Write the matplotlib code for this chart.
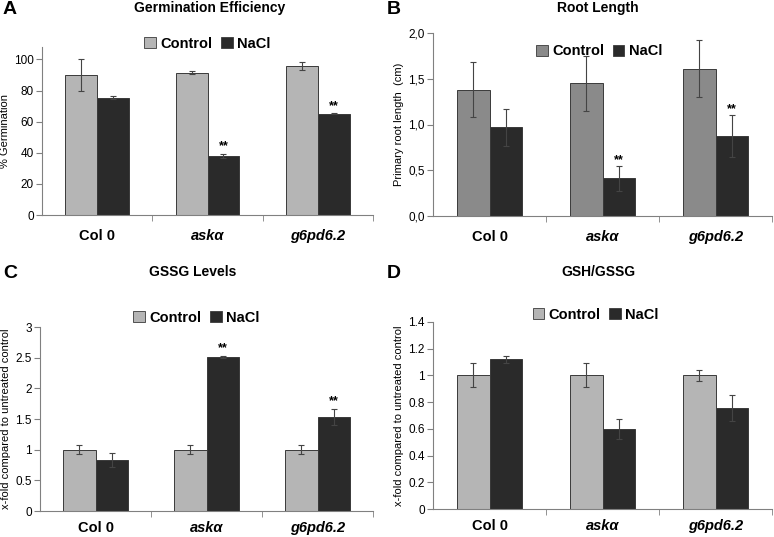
import numpy as np
import matplotlib.pyplot as plt
from matplotlib.patches import Patch

plt.rcParams['font.family'] = ['Liberation Sans', 'DejaVu Sans']

genotypes = ['Col 0', 'askα', 'g6pd6.2']

# A: germination efficiency (%)
germ_ctrl = [90, 91.5, 96]
germ_ctrl_err = [10, 1, 2.5]
germ_nacl = [75.5, 38, 65]
germ_nacl_err = [1, 1.5, 0.3]
germ_stars = ['', '**', '**']

# B: primary root length (cm)
root_ctrl = [1.38, 1.45, 1.61]
root_ctrl_err = [0.30, 0.30, 0.31]
root_nacl = [0.97, 0.41, 0.87]
root_nacl_err = [0.20, 0.14, 0.23]
root_stars = ['', '**', '**']

# C: GSSG levels (x-fold)
gssg_ctrl = [1.0, 1.0, 1.0]
gssg_ctrl_err = [0.07, 0.07, 0.07]
gssg_nacl = [0.83, 2.51, 1.53]
gssg_nacl_err = [0.11, 0.01, 0.13]
gssg_stars = ['', '**', '**']

# D: GSH/GSSG ratio (x-fold)
ratio_ctrl = [1.0, 1.0, 1.0]
ratio_ctrl_err = [0.09, 0.09, 0.04]
ratio_nacl = [1.12, 0.60, 0.755]
ratio_nacl_err = [0.025, 0.075, 0.095]
ratio_stars = ['', '', '']

light = '#b5b5b5'
mid = '#8a8a8a'
dark = '#2a2a2a'
edge = '#3a3a3a'

fig = plt.figure(figsize=(7.74, 5.37), dpi=100)
W, H = 774, 537


def add_panel(px, letter, title, title_x, title_y, ctrl, ctrl_err, nacl, nacl_err,
              stars, ylim, yticks, ylabels, ylabel, ctrl_color, leg_xy, star_off, xpad):
    l, r, t, b = px
    ax = fig.add_axes([l / W, 1 - b / H, (r - l) / W, (b - t) / H])
    x = np.arange(len(genotypes)) + 0.5
    w = 0.29
    ax.bar(x - w / 2, ctrl, w, color=ctrl_color, edgecolor=edge, linewidth=0.7)
    ax.bar(x + w / 2, nacl, w, color=dark, edgecolor=edge, linewidth=0.7)
    ax.errorbar(x - w / 2, ctrl, yerr=ctrl_err, fmt='none', ecolor='#444444',
                elinewidth=0.8, capsize=2, capthick=0.8)
    ax.errorbar(x + w / 2, nacl, yerr=nacl_err, fmt='none', ecolor='#444444',
                elinewidth=0.8, capsize=2, capthick=0.8)
    for xi, v, e, s in zip(x + w / 2, nacl, nacl_err, stars):
        if s:
            ax.text(xi, v + e + star_off, s, ha='center', va='bottom',
                    fontsize=9, fontweight='bold')
    ax.set_xlim(0, 3)
    ax.set_ylim(*ylim)
    ax.set_yticks(yticks)
    ax.set_yticklabels(ylabels, fontsize=8.5)
    ax.set_xticks(x)
    ax.set_xticklabels(genotypes, fontsize=10.5, fontweight='bold')
    for lab in ax.get_xticklabels():
        if lab.get_text() != 'Col 0':
            lab.set_fontstyle('italic')
    ax.set_xticks([1, 2, 3], minor=True)
    ax.tick_params(axis='x', which='major', length=0, pad=xpad)
    ax.tick_params(axis='x', which='minor', length=4, direction='out', color='#808080')
    ax.tick_params(axis='y', length=4, direction='out', color='#808080', pad=2)
    for s in ['top', 'right']:
        ax.spines[s].set_visible(False)
    for s in ['left', 'bottom']:
        ax.spines[s].set_color('#808080')
        ax.spines[s].set_linewidth(0.8)
    ax.set_ylabel(ylabel, fontsize=8, labelpad=3)
    handles = [Patch(facecolor=ctrl_color, edgecolor=edge, linewidth=0.6),
               Patch(facecolor=dark, edgecolor=edge, linewidth=0.6)]
    ax.legend(handles, ['Control', 'NaCl'], loc='center', bbox_to_anchor=leg_xy,
              ncol=2, frameon=False, handlelength=0.8, handleheight=0.8,
              handletextpad=0.3, columnspacing=0.6, borderaxespad=0,
              prop={'weight': 'bold', 'size': 10.5})
    fig.text(title_x / W, 1 - title_y / H, title, ha='center', va='center',
             fontsize=10, fontweight='bold')
    letter_x = 3 if l < 100 else 387
    fig.text(letter_x / W, 1 - (title_y + 2) / H, letter, ha='left', va='center',
             fontsize=14, fontweight='bold')
    return ax


add_panel((42, 373, 47, 215), 'A', 'Germination Efficiency', 210, 8,
          germ_ctrl, germ_ctrl_err, germ_nacl, germ_nacl_err, germ_stars,
          (0, 108), [0, 20, 40, 60, 80, 100], ['0', '20', '40', '60', '80', '100'],
          '% Germination', light, (0.5, 1.02), 1, 10)

add_panel((433, 772, 33, 216), 'B', 'Root Length', 598, 8,
          root_ctrl, root_ctrl_err, root_nacl, root_nacl_err, root_stars,
          (0, 2.0), [0, 0.5, 1.0, 1.5, 2.0], ['0,0', '0,5', '1,0', '1,5', '2,0'],
          'Primary root length  (cm)', mid, (0.49, 0.9), 0.0, 10)

add_panel((40, 373, 327, 511), 'C', 'GSSG Levels', 193, 272,
          gssg_ctrl, gssg_ctrl_err, gssg_nacl, gssg_nacl_err, gssg_stars,
          (0, 3), [0, 0.5, 1, 1.5, 2, 2.5, 3], ['0', '0.5', '1', '1.5', '2', '2.5', '3'],
          'x-fold compared to untreated control', light, (0.47, 1.05), 0.03, 7)

add_panel((433, 772, 322, 509), 'D', 'GSH/GSSG', 598, 272,
          ratio_ctrl, ratio_ctrl_err, ratio_nacl, ratio_nacl_err, ratio_stars,
          (0, 1.4), [0, 0.2, 0.4, 0.6, 0.8, 1, 1.2, 1.4],
          ['0', '0.2', '0.4', '0.6', '0.8', '1', '1.2', '1.4'],
          'x-fold compared to untreated control', light, (0.48, 1.04), 0.02, 7)

fig.savefig('out.png', dpi=100)
